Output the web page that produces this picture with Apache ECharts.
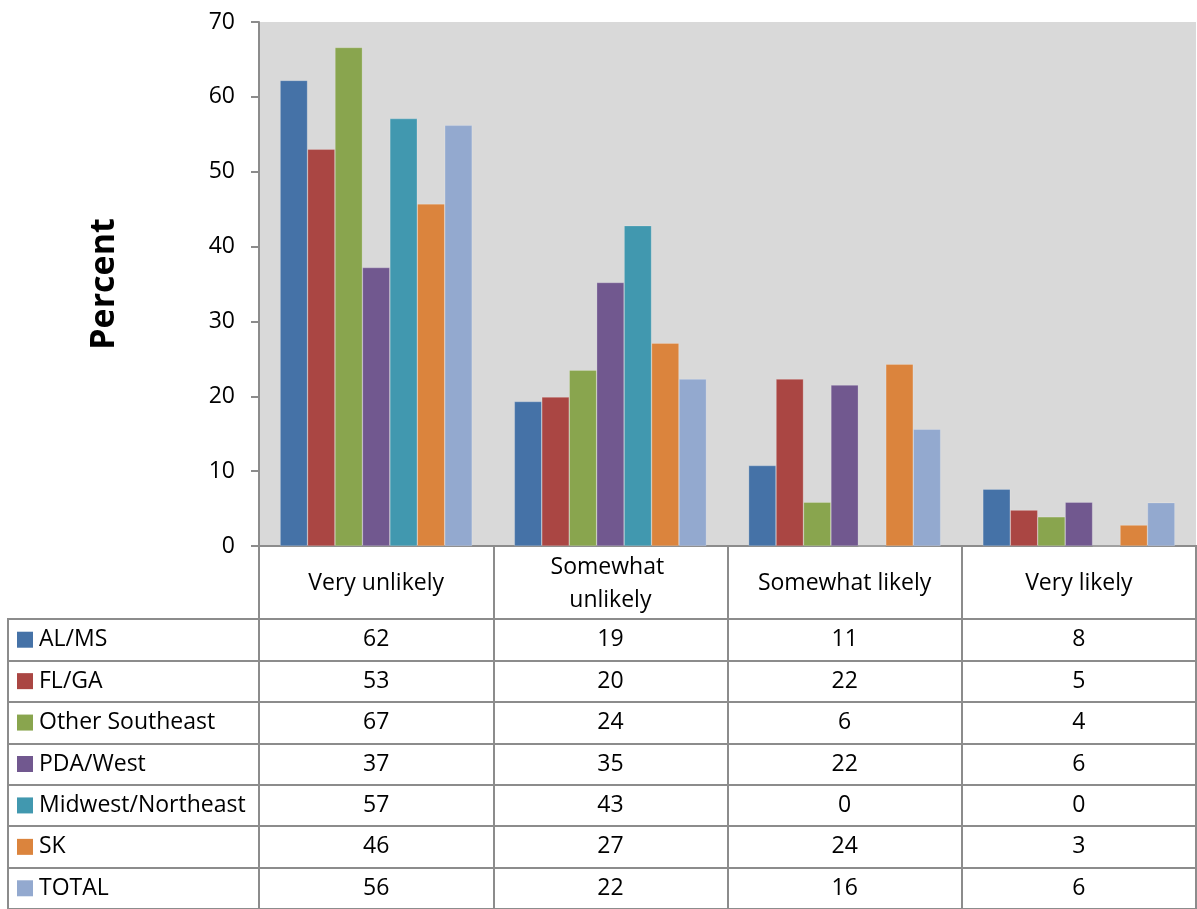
<!DOCTYPE html>
<html><head><meta charset="utf-8">
<script src="https://cdn.jsdelivr.net/npm/echarts@6/dist/echarts.min.js"></script>
<style>html,body{margin:0;padding:0;background:#fff}#c{width:1197px;height:909px}</style>
</head><body><div id="c"></div>
<script>
const categories = ['Very unlikely', 'Somewhat unlikely', 'Somewhat likely', 'Very likely'];
const seriesNames = ['AL/MS', 'FL/GA', 'Other Southeast', 'PDA/West', 'Midwest/Northeast', 'SK', 'TOTAL'];
const alms = [62.2, 19.3, 10.75, 7.6];
const flga = [53.0, 19.9, 22.3, 4.8];
const otherSE = [66.6, 23.5, 5.85, 3.9];
const pdaWest = [37.2, 35.2, 21.5, 5.85];
const midwestNE = [57.1, 42.8, 0, 0];
const sk = [45.7, 27.1, 24.3, 2.8];
const total = [56.2, 22.3, 15.6, 5.8];
const yTicks = { min: 0, max: 70, interval: 10 };
const colors = ['#4572a7', '#aa4643', '#89a54e', '#71588f', '#4198af', '#db843d', '#93a9cf'];
const values = [alms, flga, otherSE, pdaWest, midwestNE, sk, total];

const FONT = "'Open Sans', sans-serif";
const FS = 23;
const LINE = '#8c8c8c';
const chart = echarts.init(document.getElementById('c'));

const bars = seriesNames.map((n, i) => ({
  name: n, type: 'bar', xAxisIndex: 0, yAxisIndex: 0,
  data: values[i], itemStyle: { color: colors[i], borderColor: 'rgba(255,255,255,0.35)', borderWidth: 0.6 },
  barGap: '0%', barCategoryGap: '18%', animation: false
}));

const headerData = categories.map((c, i) => [i, 0.5, c]);
const bodyData = [];
seriesNames.forEach((s, si) => categories.forEach((c, ci) => bodyData.push([ci, si, Math.round(values[si][ci])])));
const legendData = seriesNames.map((s, si) => [0, si, s]);

chart.setOption({
  animation: false,
  textStyle: { fontFamily: FONT },
  grid: [
    { left: 259, right: 1, top: 22, height: 524, show: true, backgroundColor: '#d9d9d9', borderWidth: 0 },
    { left: 259, right: 1, top: 546, height: 73, show: true, backgroundColor: '#fff', borderColor: LINE, borderWidth: 2 },
    { left: 259, right: 1, top: 619, height: 290, show: true, backgroundColor: '#fff', borderColor: LINE, borderWidth: 2 },
    { left: 8, width: 251, top: 619, height: 290, show: true, backgroundColor: '#fff', borderColor: LINE, borderWidth: 2 }
  ],
  xAxis: [
    { gridIndex: 0, type: 'category', data: categories, axisLine: { lineStyle: { color: LINE, width: 2 } }, axisTick: { show: false }, axisLabel: { show: false } },
    { gridIndex: 1, type: 'category', data: categories, axisLine: { show: false }, axisTick: { show: false }, axisLabel: { show: false },
      splitLine: { show: true, interval: 0, lineStyle: { color: LINE, width: 2 } } },
    { gridIndex: 2, type: 'category', data: categories, axisLine: { show: false }, axisTick: { show: false }, axisLabel: { show: false },
      splitLine: { show: true, interval: 0, lineStyle: { color: LINE, width: 2 } } },
    { gridIndex: 3, type: 'value', min: 0, max: 1, show: false }
  ],
  yAxis: [
    { gridIndex: 0, type: 'value', min: yTicks.min, max: yTicks.max, interval: yTicks.interval,
      name: 'Percent', nameLocation: 'middle', nameGap: 138, nameRotate: 90,
      nameTextStyle: { fontSize: 34, fontWeight: 'bold', color: '#000', fontFamily: FONT },
      axisLine: { show: true, lineStyle: { color: LINE, width: 2 } },
      axisTick: { show: true, inside: false, length: 8, lineStyle: { color: LINE, width: 2 } },
      axisLabel: { fontSize: FS, color: '#000', margin: 24, fontFamily: FONT },
      splitLine: { show: false } },
    { gridIndex: 1, type: 'value', min: 0, max: 1, show: false },
    { gridIndex: 2, type: 'category', data: seriesNames, inverse: true, axisLine: { show: false }, axisTick: { show: false }, axisLabel: { show: false },
      splitLine: { show: true, interval: 0, lineStyle: { color: LINE, width: 2 } } },
    { gridIndex: 3, type: 'category', data: seriesNames, inverse: true, axisLine: { show: false }, axisTick: { show: false }, axisLabel: { show: false },
      splitLine: { show: true, interval: 0, lineStyle: { color: LINE, width: 2 } } }
  ],
  series: bars.concat([
    { type: 'custom', xAxisIndex: 1, yAxisIndex: 1, data: headerData, silent: true,
      renderItem: (params, api) => {
        const p = api.coord([api.value(0), api.value(1)]);
        return { type: 'text', x: p[0], y: p[1] + 1, style: { text: headerData[params.dataIndex][2], fontSize: FS, fontFamily: FONT, fill: '#000',
          align: 'center', verticalAlign: 'middle', width: 200, overflow: 'break', lineHeight: 33 } };
      } },
    { type: 'custom', xAxisIndex: 2, yAxisIndex: 2, data: bodyData, silent: true,
      renderItem: (params, api) => {
        const p = api.coord([api.value(0), api.value(1)]);
        return { type: 'text', x: p[0], y: p[1], style: { text: String(bodyData[params.dataIndex][2]), fontSize: FS, fontFamily: FONT, fill: '#000',
          align: 'center', verticalAlign: 'middle' } };
      } },
    { type: 'custom', xAxisIndex: 3, yAxisIndex: 3, data: legendData, silent: true,
      renderItem: (params, api) => {
        const p = api.coord([api.value(0), api.value(1)]);
        const i = params.dataIndex;
        return { type: 'group', children: [
          { type: 'rect', shape: { x: p[0] + 9, y: p[1] - 8, width: 16, height: 16 }, style: { fill: colors[i] } },
          { type: 'text', x: p[0] + 31, y: p[1], style: { text: legendData[i][2], fontSize: FS, fontFamily: FONT, fill: '#000', align: 'left', verticalAlign: 'middle' } }
        ] };
      } }
  ])
});
</script></body></html>
